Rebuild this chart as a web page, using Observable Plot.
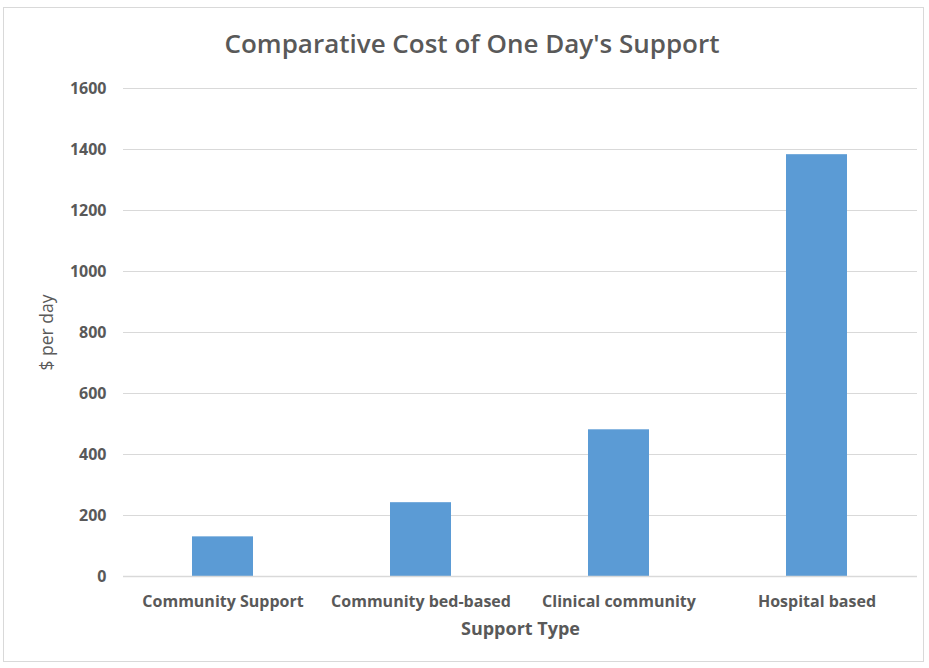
<!DOCTYPE html>
<html>
<head>
<meta charset="utf-8">
<script src="https://cdn.jsdelivr.net/npm/d3@7"></script>
<script src="https://cdn.jsdelivr.net/npm/@observablehq/plot@0.6"></script>
<style>
  html, body { margin: 0; padding: 0; background: #fff; }
  body { width: 929px; height: 668px; position: relative; overflow: hidden; font-family: "Open Sans", sans-serif; }
  #frame { position: absolute; left: 3px; top: 7px; width: 921px; height: 655px; border: 1px solid #d9d9d9; box-sizing: border-box; }
  #title { position: absolute; left: 0; width: 944px; top: 25px; text-align: center; font-size: 26px; color: #595959; font-weight: 600; }
  #chart { position: absolute; left: 0; top: 70px; }
</style>
</head>
<body>
<div id="frame"></div>
<div id="title">Comparative Cost of One Day's Support</div>
<div id="chart"></div>
<script>
const categories = ["Community Support", "Community bed-based", "Clinical community", "Hospital based"];
const costs = [130, 242, 481, 1383];
const yTicks = [0, 200, 400, 600, 800, 1000, 1200, 1400, 1600];

const data = categories.map((c, i) => ({type: c, cost: costs[i]}));

const chart = Plot.plot({
  width: 929,
  height: 598,
  marginTop: 18,
  marginBottom: 92,
  marginLeft: 123,
  marginRight: 12,
  style: {fontFamily: "'Open Sans', sans-serif", color: "#595959", background: "transparent"},
  x: {domain: categories, paddingInner: 0.69, paddingOuter: 0.345, align: 0.5, label: "Support Type"},
  y: {domain: [0, 1600], label: "$ per day"},
  marks: [
    Plot.gridY(yTicks, {stroke: "#d9d9d9", strokeOpacity: 1}),
    Plot.barY(data, {x: "type", y: "cost", fill: "#5b9bd5"}),
    Plot.ruleY([0], {stroke: "#d9d9d9", strokeWidth: 1.3}),
    Plot.axisY(yTicks, {tickSize: 0, tickPadding: 17, fontSize: 16, fontWeight: "bold", tickFormat: "d", label: null}),
    Plot.text(["$ per day"], {frameAnchor: "left", textAnchor: "middle", dx: -76, rotate: -90, fontSize: 17.5, fill: "#595959"}),
    Plot.axisX({tickSize: 0, tickPadding: 19, fontSize: 16, fontWeight: "bold", label: null}),
    Plot.text(["Support Type"], {frameAnchor: "bottom", dy: 58, fontSize: 18, fontWeight: "bold", fill: "#595959"})
  ]
});
document.getElementById("chart").appendChild(chart);
</script>
</body>
</html>
